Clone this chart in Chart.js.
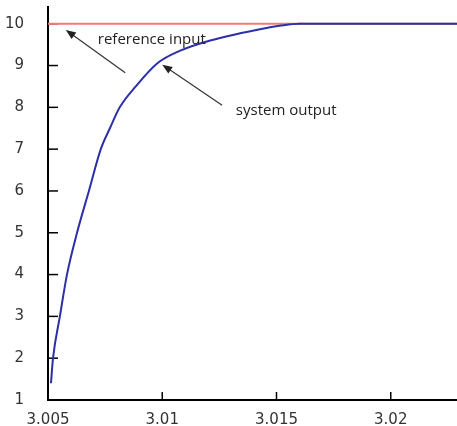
<!DOCTYPE html>
<html>
<head>
<meta charset="utf-8">
<script src="https://cdn.jsdelivr.net/npm/chart.js@4/dist/chart.umd.min.js"></script>
<style>
html, body { margin: 0; padding: 0; background: #fff; }
</style>
</head>
<body>
<canvas id="myChart" width="457" height="426"></canvas>
<script>
// step response
var time = [3.00513, 3.00522, 3.00552, 3.00583, 3.00627, 3.00679, 3.00731, 3.00771, 3.00814, 3.00884, 3.0098, 3.01076, 3.0121, 3.01456, 3.01513, 3.0160, 3.0229];
var output = [1.4, 2, 3, 4, 5, 6, 7, 7.5, 8, 8.5, 9.06, 9.35, 9.6, 9.9, 9.95, 10, 10];
var refTime = [3.005, 3.0229];
var refInput = [10, 10];
var xTicks = [3.005, 3.01, 3.015, 3.02];
var yTicks = [1, 2, 3, 4, 5, 6, 7, 8, 9, 10];

// text labels with arrows (data coords: text anchor, arrow tail, arrow head)
var notes = [
    { text: 'reference input', tx: 3.00718, ty: 9.62, ax: 3.00838, ay: 8.83, hx: 3.00578, hy: 9.85 },
    { text: 'system output', tx: 3.01322, ty: 7.93, ax: 3.01262, ay: 8.05, hx: 3.01000, hy: 9.02 }
];

function toPoints(xs, ys) {
    return xs.map(function (x, i) { return { x: x, y: ys[i] }; });
}

var extras = {
    id: 'extras',
    beforeDatasetsDraw: function (chart) {
        // inward tick marks, under the lines
        var ctx = chart.ctx;
        var xs = chart.scales.x, ys = chart.scales.y;
        var area = chart.chartArea;
        ctx.save();
        ctx.strokeStyle = '#000';
        ctx.lineWidth = 1.5;
        ys.ticks.forEach(function (t) {
            var py = ys.getPixelForValue(t.value);
            ctx.beginPath();
            ctx.moveTo(area.left, py);
            ctx.lineTo(area.left + 10, py);
            ctx.stroke();
        });
        xs.ticks.forEach(function (t) {
            var px = xs.getPixelForValue(t.value);
            ctx.beginPath();
            ctx.moveTo(px, area.bottom);
            ctx.lineTo(px, area.bottom - 8);
            ctx.stroke();
        });
        ctx.restore();
    },
    afterDraw: function (chart) {
        var ctx = chart.ctx;
        var xs = chart.scales.x, ys = chart.scales.y;
        ctx.save();
        ctx.font = '15px "Open Sans"';
        ctx.textBaseline = 'middle';
        ctx.textAlign = 'left';
        notes.forEach(function (n) {
            ctx.fillStyle = '#222';
            ctx.fillText(n.text, xs.getPixelForValue(n.tx), ys.getPixelForValue(n.ty));
            var x1 = xs.getPixelForValue(n.ax), y1 = ys.getPixelForValue(n.ay);
            var x2 = xs.getPixelForValue(n.hx), y2 = ys.getPixelForValue(n.hy);
            var ang = Math.atan2(y2 - y1, x2 - x1);
            ctx.strokeStyle = '#333';
            ctx.lineWidth = 1.2;
            ctx.beginPath();
            ctx.moveTo(x1, y1);
            ctx.lineTo(x2 - 6 * Math.cos(ang), y2 - 6 * Math.sin(ang));
            ctx.stroke();
            ctx.beginPath();
            ctx.moveTo(x2, y2);
            ctx.lineTo(x2 - 10 * Math.cos(ang) + 4 * Math.sin(ang), y2 - 10 * Math.sin(ang) - 4 * Math.cos(ang));
            ctx.lineTo(x2 - 10 * Math.cos(ang) - 4 * Math.sin(ang), y2 - 10 * Math.sin(ang) + 4 * Math.cos(ang));
            ctx.closePath();
            ctx.fill();
        });
        ctx.restore();
    }
};

var ctx = document.getElementById('myChart').getContext('2d');
var chart = new Chart(ctx, {
    type: 'line',
    data: {
        datasets: [{
            label: 'system output',
            data: toPoints(time, output),
            borderColor: '#2c30a8',
            borderWidth: 2,
            pointRadius: 0,
            cubicInterpolationMode: 'monotone',
            fill: false,
            order: 0
        },
        {
            label: 'reference input',
            data: toPoints(refTime, refInput),
            borderColor: '#f07a7a',
            borderWidth: 2,
            pointRadius: 0,
            tension: 0,
            fill: false,
            order: 1
        }]
    },
    options: {
        responsive: false,
        animation: false,
        devicePixelRatio: 1,
        layout: { padding: { top: 7, right: 0, left: 0, bottom: 0 } },
        plugins: {
            legend: { display: false },
            tooltip: { enabled: false }
        },
        scales: {
            x: {
                type: 'linear',
                min: 3.005,
                max: 3.0229,
                afterBuildTicks: function (scale) {
                    scale.ticks = xTicks.map(function (v) { return { value: v }; });
                },
                afterFit: function (scale) {
                    scale.height = 26;
                    scale.paddingLeft = 0;
                    scale.paddingRight = 0;
                },
                grid: { display: false },
                border: { display: true, color: '#000', width: 2 },
                ticks: {
                    autoSkip: false,
                    maxRotation: 0,
                    padding: 3,
                    color: '#333',
                    font: { family: 'DejaVu Sans', size: 15 },
                    callback: function (v) { return String(Number(v.toFixed(3))); }
                }
            },
            y: {
                min: 1,
                max: 10.4,
                afterBuildTicks: function (scale) {
                    scale.ticks = yTicks.map(function (v) { return { value: v }; });
                },
                afterFit: function (scale) {
                    scale.width = 48;
                    scale.paddingTop = 0;
                    scale.paddingBottom = 0;
                },
                grid: { display: false },
                border: { display: true, color: '#000', width: 2 },
                ticks: {
                    padding: 16,
                    color: '#333',
                    font: { family: 'DejaVu Sans', size: 15 }
                }
            }
        }
    },
    plugins: [extras]
});
</script>
</body>
</html>
